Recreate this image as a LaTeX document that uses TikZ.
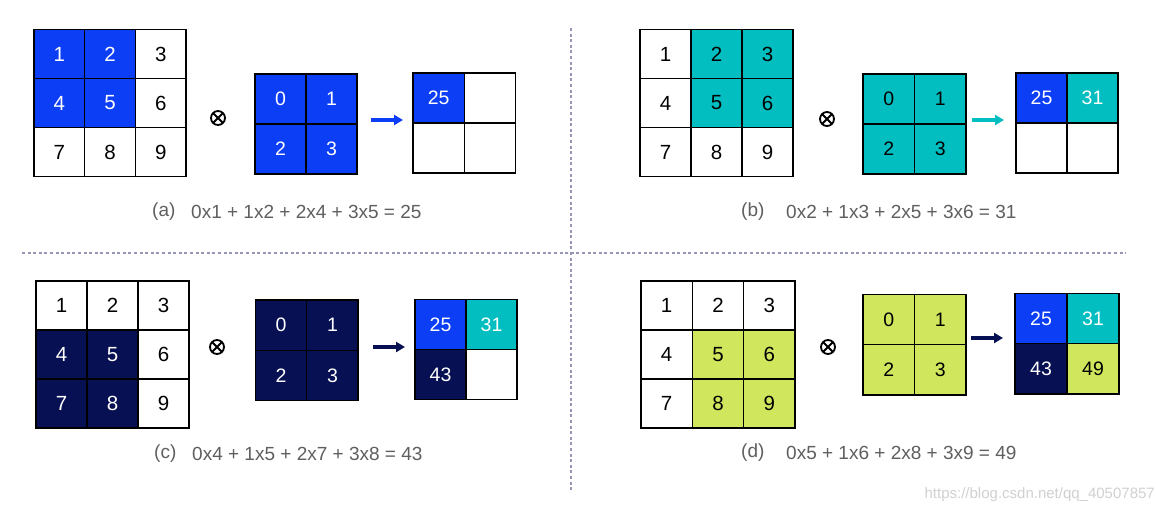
\documentclass[tikz,border=0pt]{standalone}
\usepackage{fontspec}
\setmainfont{Liberation Sans}
\usetikzlibrary{arrows.meta}
\definecolor{cblue}{RGB}{12,62,245}
\definecolor{cteal}{RGB}{2,190,192}
\definecolor{cnavy}{RGB}{6,16,82}
\definecolor{clime}{RGB}{208,230,92}
\definecolor{sepcol}{RGB}{150,150,185}
\definecolor{capcol}{RGB}{95,95,95}
\tikzset{
  cellbase/.style={draw=black, line width=1.3pt, inner sep=0pt},
  bigtxt/.style={font=\fontsize{20.5}{22}\selectfont},
  smalltxt/.style={font=\fontsize{19.5}{22}\selectfont},
  cw/.style={fill=white, text=black},
  cb/.style={fill=cblue, text=white},
  ct/.style={fill=cteal, text=black},
  ctw/.style={fill=cteal, text=white},
  cn/.style={fill=cnavy, text=white},
  cl/.style={fill=clime, text=black},
  otimesnode/.style={circle, draw=black, line width=1.8pt, minimum size=14pt, inner sep=0pt,
    path picture={\draw[line width=1.8pt]
      (path picture bounding box.north west) -- (path picture bounding box.south east)
      (path picture bounding box.north east) -- (path picture bounding box.south west);}},
  flow/.style={line width=3.2pt, -{Triangle[length=9pt,width=10pt]}},
  sep/.style={sepcol, line width=1.8pt, dash pattern=on 3pt off 2.6pt},
  caplabel/.style={anchor=west, inner sep=0pt, text=capcol, font=\fontsize{19}{22}\selectfont},
  wmark/.style={anchor=east, inner sep=0pt, text=black!18, font=\fontsize{15}{18}\selectfont}
}
% #1 prefix, #2 x0, #3 y0, #4 columns, #5 cell width, #6 cell height, #7 text size style, #8 list text/style
\newcommand{\gridcells}[8]{%
  \foreach \t/\s [count=\i from 0] in {#8} {
    \pgfmathtruncatemacro\gc{mod(\i,#4)}
    \pgfmathtruncatemacro\gr{div(\i,#4)}
    \node[cellbase, #7, \s, minimum width=#5pt, minimum height=#6pt]
      (#1-\i) at ({#2+(\gc+0.5)*#5},{#3+(\gr+0.5)*#6}) {\t};
  }}
\begin{document}
\begin{tikzpicture}[x=1pt,y=-1pt]
\useasboundingbox (0,0) rectangle (1156,504);
\fill[white] (0,0) rectangle (1156,504);

% separators
\coordinate (hl) at (22,253);
\coordinate (hr) at (1126,253);
\coordinate (vt) at (571,28);
\coordinate (vb) at (571,490);
\draw[sep] (hl) -- (hr);
\draw[sep] (vt) -- (vb);

% ---------- (a) ----------
\gridcells{ag}{34}{29.5}{3}{50.7}{49}{bigtxt}{1/cb,2/cb,3/cw,4/cb,5/cb,6/cw,7/cw,8/cw,9/cw}
\gridcells{ak}{255}{74}{2}{51}{50}{smalltxt}{0/cb,1/cb,2/cb,3/cb}
\gridcells{ao}{413}{73}{2}{51.3}{50}{smalltxt}{25/cb,/cw,/cw,/cw}
\node[otimesnode] (ax) at (218,118) {};
\coordinate (aa1) at (371,120);
\coordinate (aa2) at (403,120);
\draw[flow, cblue] (aa1) -- (aa2);
\node[caplabel] (acap) at (152,212) {(a)};
\node[caplabel] (aeq) at (191,212) {0x1 + 1x2 + 2x4 + 3x5 = 25};

% ---------- (b) ----------
\gridcells{bg}{640}{29.5}{3}{51}{49}{bigtxt}{1/cw,2/ct,3/ct,4/cw,5/ct,6/ct,7/cw,8/cw,9/cw}
\gridcells{bk}{863}{74}{2}{51.5}{50}{smalltxt}{0/ct,1/ct,2/ct,3/ct}
\gridcells{bo}{1016}{73}{2}{51}{50}{smalltxt}{25/cb,31/ctw,/cw,/cw}
\node[otimesnode] (bx) at (827,119) {};
\coordinate (ba1) at (972,120);
\coordinate (ba2) at (1004,120);
\draw[flow, cteal] (ba1) -- (ba2);
\node[caplabel] (bcap) at (741,212) {(b)};
\node[caplabel] (beq) at (786,212) {0x2 + 1x3 + 2x5 + 3x6 = 31};

% ---------- (c) ----------
\gridcells{cg}{36}{281}{3}{51}{49}{bigtxt}{1/cw,2/cw,3/cw,4/cn,5/cn,6/cw,7/cn,8/cn,9/cw}
\gridcells{ck}{255.5}{300}{2}{51.3}{50.3}{smalltxt}{0/cn,1/cn,2/cn,3/cn}
\gridcells{co}{415}{299.5}{2}{51}{50}{smalltxt}{25/cb,31/ctw,43/cn,/cw}
\node[otimesnode] (cx) at (217,347) {};
\coordinate (ca1) at (373,347);
\coordinate (ca2) at (405,347);
\draw[flow, cnavy] (ca1) -- (ca2);
\node[caplabel] (ccap) at (154,454) {(c)};
\node[caplabel] (ceq) at (192,454) {0x4 + 1x5 + 2x7 + 3x8 = 43};

% ---------- (d) ----------
\gridcells{dg}{641}{281}{3}{51.3}{49}{bigtxt}{1/cw,2/cw,3/cw,4/cw,5/cl,6/cl,7/cw,8/cl,9/cl}
\gridcells{dk}{863}{294.5}{2}{51.5}{50.3}{smalltxt}{0/cl,1/cl,2/cl,3/cl}
\gridcells{do}{1015}{293.5}{2}{52}{50.3}{smalltxt}{25/cb,31/ctw,43/cn,49/cl}
\node[otimesnode] (dx) at (828,347) {};
\coordinate (da1) at (971,338);
\coordinate (da2) at (1003,338);
\draw[flow, cnavy] (da1) -- (da2);
\node[caplabel] (dcap) at (741,453) {(d)};
\node[caplabel] (deq) at (786,453) {0x5 + 1x6 + 2x8 + 3x9 = 49};

% watermark
\node[wmark] (wm) at (1155,495) {https://blog.csdn.net/qq\_40507857};
\end{tikzpicture}
\end{document}
